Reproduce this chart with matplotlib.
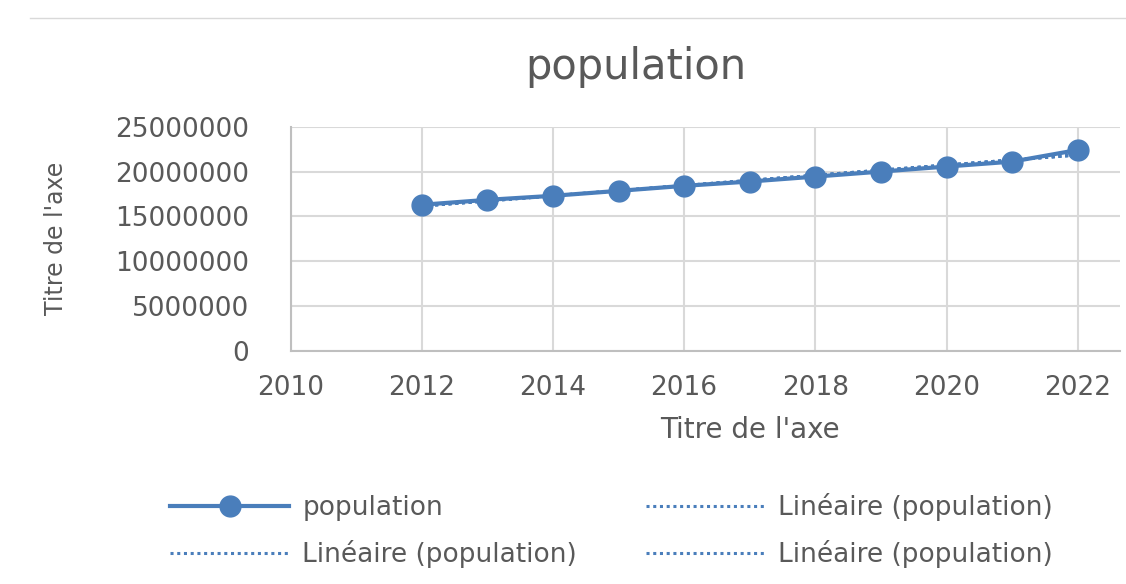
import matplotlib
matplotlib.use("Agg")
import matplotlib.pyplot as plt
import numpy as np

years = [2012, 2013, 2014, 2015, 2016, 2017, 2018, 2019, 2020, 2021, 2022]
population = [16300000, 16850000, 17300000, 17850000, 18410000, 18890000,
              19440000, 20000000, 20560000, 21110000, 22410000]
x_ticks = [2010, 2012, 2014, 2016, 2018, 2020, 2022]
y_ticks = [0, 5000000, 10000000, 15000000, 20000000, 25000000]

blue = "#4a7ebb"
gray_text = "#595959"
grid_c = "#d9d9d9"

fig = plt.figure(figsize=(11.26, 5.84), dpi=100)
ax = fig.add_axes([0.258, 0.399, 0.737, 0.384])

coef = np.polyfit(years, population, 1)
trend = np.polyval(coef, years)

lin_handles = []
for i in range(3):
    h, = ax.plot(years, trend, linestyle=(0, (1, 1.2)), color=blue, lw=2.2,
                 label="Linéaire (population)", zorder=3)
    lin_handles.append(h)
hp, = ax.plot(years, population, color=blue, lw=3, marker="o", markersize=15,
              label="population", zorder=4)

ax.set_xlim(2010, 2022.65)
ax.set_ylim(0, 25000000)
ax.set_xticks(x_ticks)
ax.set_yticks(y_ticks)
ax.set_xticklabels([str(v) for v in x_ticks])
ax.set_yticklabels([str(v) for v in y_ticks])
ax.grid(True, color=grid_c, lw=1.5)
ax.set_axisbelow(True)
for s in ["top", "right"]:
    ax.spines[s].set_visible(False)
for s in ["left", "bottom"]:
    ax.spines[s].set_color("#bfbfbf")
    ax.spines[s].set_linewidth(1.5)
ax.tick_params(axis="y", length=0, labelsize=19, colors=gray_text, pad=30)
ax.tick_params(axis="x", length=0, labelsize=19, colors=gray_text, pad=17)

fig.text(636 / 1126, 1 - 67 / 584, "population", fontsize=30, color=gray_text,
         ha="center", va="center")
ax.set_xlabel("Titre de l'axe", fontsize=20, color=gray_text)
ax.xaxis.set_label_coords((750 - 291) / 829, (351 - 430) / 224)
ax.xaxis.label.set_va("center")
ax.set_ylabel("Titre de l'axe", fontsize=17, color=gray_text)
ax.yaxis.set_label_coords((57 - 291) / 829, 0.5)
ax.yaxis.label.set_va("center")

leg = fig.legend([hp, lin_handles[0], lin_handles[1], lin_handles[2]],
                 ["population", "Linéaire (population)", "Linéaire (population)",
                  "Linéaire (population)"],
                 loc="center", bbox_to_anchor=(0.543, 0.092), ncol=2, frameon=False,
                 fontsize=19, labelcolor=gray_text, handlelength=4.5,
                 columnspacing=2.6, handletextpad=0.5, labelspacing=0.72)

fig.add_artist(plt.Line2D([0.027, 1.0], [0.97, 0.97], color="#d9d9d9", lw=1,
                          transform=fig.transFigure))

fig.savefig("out.png", dpi=100)
